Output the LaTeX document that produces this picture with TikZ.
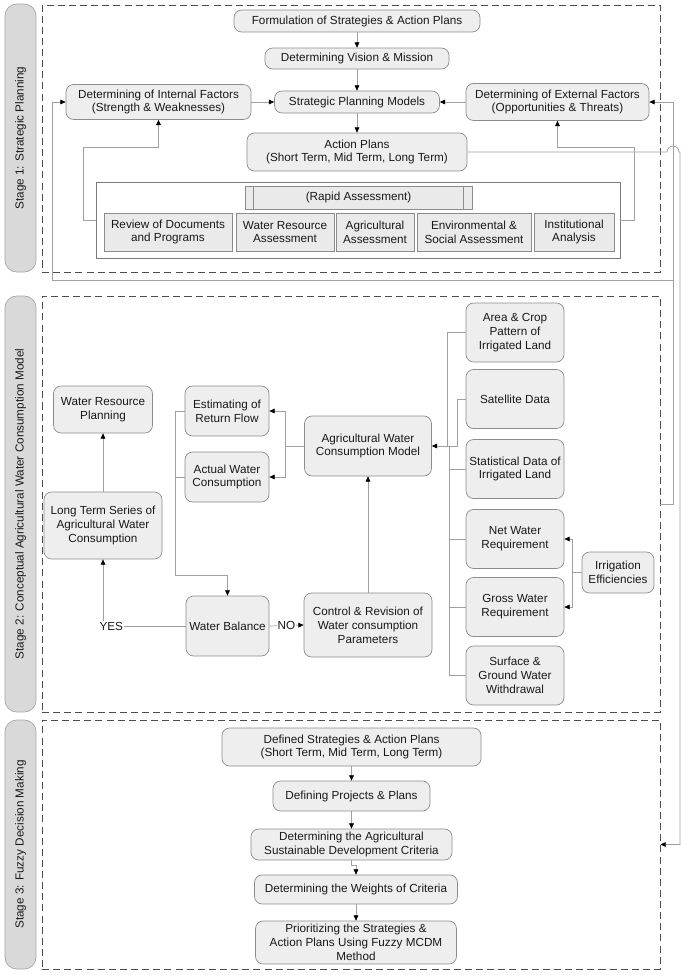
\documentclass[tikz,border=0pt]{standalone}
\usepackage{fontspec}
\setmainfont{Liberation Sans}
\usepackage{tikz}
\usetikzlibrary{arrows.meta}
\definecolor{boxfill}{HTML}{EEEEEE}
\definecolor{boxdraw}{HTML}{8C8C8C}
\definecolor{rafill}{HTML}{EAEAEA}
\definecolor{radraw}{HTML}{7A7A7A}
\definecolor{sidefill}{HTML}{D9D9D9}
\definecolor{sidedraw}{HTML}{A6A6A6}
\definecolor{linkgray}{HTML}{A0A0A0}
\definecolor{dashgray}{HTML}{4D4D4D}

\begin{document}
\begin{tikzpicture}[x=0.3mm, y=-0.3mm,
    every node/.style={font=\fontsize{10}{11.8}\selectfont, text=black!90},
    stepbox/.style={draw=boxdraw, fill=boxfill, rounded corners=6.5pt, align=center, inner sep=1pt, line width=0.6pt},
    rabox/.style={draw=boxdraw, fill=rafill, align=center, inner sep=1pt, line width=0.6pt},
    stagebox/.style={draw=dashgray, dash pattern=on 6pt off 3.5pt, line width=0.8pt, inner sep=0pt},
    stagelabel/.style={draw=sidedraw, fill=sidefill, rounded corners=10pt, rotate=90, inner sep=0pt, line width=0.6pt},
    link/.style={draw=linkgray, line width=0.6pt},
    arr/.style={link, -{Triangle[length=4.5pt, width=4pt, color=black]}},
    yesno/.style={fill=white, inner sep=1pt}
]
    \useasboundingbox (0,0) rectangle (685,975);

    % Stage frames and side labels
    \node[stagebox, minimum width=185.4mm, minimum height=80.1mm] (s1box) at (351,138.5) {};
    \node[stagelabel, minimum width=80.4mm, minimum height=9.3mm] (s1lab) at (20.5,138) {Stage 1: Strategic Planning};
    \node[stagebox, minimum width=185.4mm, minimum height=124.8mm] (s2box) at (351,504) {};
    \node[stagelabel, minimum width=124.8mm, minimum height=9.3mm] (s2lab) at (20.5,504) {Stage 2: Conceptual Agricultural Water Consumption Model};
    \node[stagebox, minimum width=185.4mm, minimum height=74.7mm] (s3box) at (351,844.5) {};
    \node[stagelabel, minimum width=74.7mm, minimum height=9.3mm] (s3lab) at (20.5,844.5) {Stage 3: Fuzzy Decision Making};

    % Stage 1: strategic planning
    \node[stepbox, minimum width=73.8mm, minimum height=6.6mm] (form) at (357,21) {Formulation of Strategies \& Action Plans};
    \node[stepbox, minimum width=55.2mm, minimum height=6.3mm] (vision) at (357,58.5) {Determining Vision \& Mission};
    \node[stepbox, minimum width=55.5mm, minimum height=10.5mm] (internal) at (158.5,102) {Determining of Internal Factors\\(Strength \& Weaknesses)};
    \node[stepbox, minimum width=49.5mm, minimum height=6.6mm] (spm) at (357,102) {Strategic Planning Models};
    \node[stepbox, minimum width=54.9mm, minimum height=11.1mm] (external) at (557.5,102) {Determining of External Factors\\(Opportunities \& Threats)};
    \node[stepbox, minimum width=66mm, minimum height=11.4mm] (action) at (357,152) {Action Plans\\(Short Term, Mid Term, Long Term)};

    % Rapid assessment block
    \node[draw=radraw, fill=white, minimum width=157.2mm, minimum height=22.8mm, line width=0.6pt] (ra) at (358,220) {};
    \node[rabox, minimum width=68.1mm, minimum height=6.9mm] (rahead) at (358.5,197.5) {(Rapid Assessment)};
    \draw[draw=boxdraw, line width=0.6pt] ([xshift=2.7mm]rahead.north west) -- ([xshift=2.7mm]rahead.south west);
    \draw[draw=boxdraw, line width=0.6pt] ([xshift=-2.7mm]rahead.north east) -- ([xshift=-2.7mm]rahead.south east);
    \node[rabox, minimum width=38.4mm, minimum height=11.4mm] (review) at (168,232) {Review of Documents\\and Programs};
    \node[rabox, minimum width=29.4mm, minimum height=11.4mm] (wres) at (285,232) {Water Resource\\Assessment};
    \node[rabox, minimum width=23.4mm, minimum height=11.4mm] (agass) at (375,232) {Agricultural\\Assessment};
    \node[rabox, minimum width=34.2mm, minimum height=11.4mm] (envass) at (474,232) {Environmental \&\\Social Assessment};
    \node[rabox, minimum width=24mm, minimum height=11.4mm] (inst) at (574,232) {Institutional\\Analysis};

    % Stage 1 links
    \draw[arr] (form) -- (vision);
    \draw[arr] (vision) -- (spm);
    \draw[arr] (internal) -- (spm);
    \draw[arr] (external) -- (spm);
    \draw[arr] (spm) -- (action);
    \coordinate (raleft) at (83,147);
    \coordinate (raright) at (634,147);
    \draw[arr] (ra.west) -| (raleft) -| (internal.south);
    \draw[arr] (ra.east) -| (raright) -| (external.south);

    % Action plans down to stage 3 (hops over the feedback line)
    \coordinate (hopin) at (667,152);
    \coordinate (actright) at (680,152);
    \draw[arr] (action.east) -- (hopin) arc[start angle=180, end angle=0, radius=1.8mm] -- (actright) |- (s3box.east);

    % Stage 2 output back to the factors
    \coordinate (fbright) at (673,280);
    \coordinate (fbleft) at (52,280);
    \draw[arr] (s2box.east) -- (s2box.east -| fbright) |- (external.east);
    \draw[arr] (fbright) -- (fbleft) |- (internal.west);

    % Stage 2: consumption model
    \node[stepbox, minimum width=29.7mm, minimum height=14.1mm] (wrp) at (103,409.5) {Water Resource\\Planning};
    \node[stepbox, minimum width=25.2mm, minimum height=15mm] (ret) at (227,411) {Estimating of\\Return Flow};
    \node[stepbox, minimum width=25.2mm, minimum height=15mm] (act) at (227,477) {Actual Water\\Consumption};
    \node[stepbox, minimum width=38.1mm, minimum height=18mm] (agri) at (368,446) {Agricultural Water\\Consumption Model};
    \node[stepbox, minimum width=35.4mm, minimum height=20.1mm] (lts) at (103,525.5) {Long Term Series of\\Agricultural Water\\Consumption};
    \node[stepbox, minimum width=24.9mm, minimum height=18mm] (wb) at (227.5,626) {Water Balance};
    \node[stepbox, minimum width=38.4mm, minimum height=19.2mm] (ctrl) at (368,625) {Control \& Revision of\\Water consumption\\Parameters};
    \node[stepbox, minimum width=29.4mm, minimum height=17.7mm] (area) at (515,332.5) {Area \& Crop\\Pattern of\\Irrigated Land};
    \node[stepbox, minimum width=29.4mm, minimum height=17.7mm] (sat) at (515,399) {Satellite Data};
    \node[stepbox, minimum width=29.4mm, minimum height=17.7mm] (stat) at (515,469) {Statistical Data of\\Irrigated Land};
    \node[stepbox, minimum width=29.4mm, minimum height=17.7mm] (net) at (515,539) {Net Water\\Requirement};
    \node[stepbox, minimum width=29.4mm, minimum height=17.7mm] (gross) at (515,607) {Gross Water\\Requirement};
    \node[stepbox, minimum width=29.4mm, minimum height=17.7mm] (surf) at (515,675.5) {Surface \&\\Ground Water\\Withdrawal};
    \node[stepbox, minimum width=21.6mm, minimum height=12.3mm] (irr) at (618,572.5) {Irrigation\\Efficiencies};

    % Stage 2 links
    \coordinate (inj) at (447,446);
    \coordinate (satj) at (457,446);
    \coordinate (busj) at (449,446);
    \draw[arr] (area.west) -| (inj) -- (agri.east);
    \draw[link] (sat.west) -| (satj) -- (inj);
    \draw[link] (busj) |- (surf.west);
    \foreach \n in {stat,net,gross}
        \draw[link] (\n.west) -- (\n.west -| busj);
    \coordinate (outj) at (285,446);
    \draw[link] (agri.west) -- (outj);
    \draw[arr] (outj) |- (ret.east);
    \draw[arr] (outj) |- (act.east);
    \coordinate (wbj) at (175,575);
    \draw[link] (ret.west) -| (wbj);
    \draw[link] (act.west) -- (act.west -| wbj);
    \draw[arr] (wbj) -| (wb.north);
    \draw[arr] (wb.west) -| node[pos=0.45, yesno] {YES} (lts.south);
    \draw[arr] (wb.east) -- node[yesno] {NO} (ctrl.west);
    \draw[arr] (ctrl) -- (agri);
    \draw[arr] (lts) -- (wrp);
    \coordinate (irrj) at (572,572.5);
    \draw[link] (irr.west) -- (irrj);
    \draw[arr] (irrj) |- (net.east);
    \draw[arr] (irrj) |- (gross.east);

    % Stage 3: fuzzy decision making
    \node[stepbox, minimum width=77.7mm, minimum height=11.4mm] (dsap) at (351.5,747) {Defined Strategies \& Action Plans\\(Short Term, Mid Term, Long Term)};
    \node[stepbox, minimum width=47.1mm, minimum height=9mm] (dpp) at (351.5,796) {Defining Projects \& Plans};
    \node[stepbox, minimum width=60.3mm, minimum height=9.3mm] (dsdc) at (351.5,844.5) {Determining the Agricultural\\Sustainable Development Criteria};
    \node[stepbox, minimum width=60.9mm, minimum height=8.7mm] (dwc) at (356,889.5) {Determining the Weights of Criteria};
    \node[stepbox, minimum width=60.3mm, minimum height=12.9mm] (pri) at (356,942.5) {Prioritizing the Strategies \&\\Action Plans Using Fuzzy MCDM\\Method};

    % Stage 3 links
    \draw[arr] (dsap) -- (dpp);
    \draw[arr] (dpp) -- (dsdc);
    \draw[arr] (dsdc.south) -- ++(0,5) -| (dwc.north);
    \draw[arr] (dwc) -- (pri);
\end{tikzpicture}
\end{document}
